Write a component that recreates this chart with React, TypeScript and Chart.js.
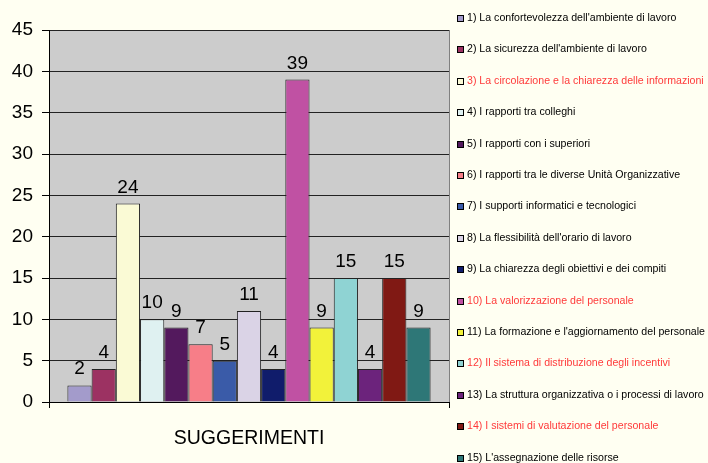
import React, { useEffect, useRef } from "react";
import { Chart, registerables } from "chart.js";

Chart.register(...registerables);

const categories = ["SUGGERIMENTI"];

const seriesLabels = [
  "1) La confortevolezza dell'ambiente di lavoro",
  "2) La sicurezza dell'ambiente di lavoro",
  "3) La circolazione e la chiarezza delle informazioni",
  "4) I rapporti tra colleghi",
  "5) I rapporti con i superiori",
  "6) I rapporti tra le diverse Unità Organizzative",
  "7) I supporti informatici e tecnologici",
  "8) La flessibilità dell'orario di lavoro",
  "9) La chiarezza degli obiettivi e dei compiti",
  "10) La valorizzazione del personale",
  "11) La formazione e l'aggiornamento del personale",
  "12) Il sistema di distribuzione degli incentivi",
  "13) La struttura organizzativa o i processi di lavoro",
  "14) I sistemi di valutazione del personale",
  "15) L'assegnazione delle risorse",
];

const seriesValues = [2, 4, 24, 10, 9, 7, 5, 11, 4, 39, 9, 15, 4, 15, 9];

const seriesColors = [
  "#A39BCB", "#9C3262", "#FAFAD5", "#DFF1F1", "#53195D",
  "#F77E88", "#3A5BA8", "#DAD3E6", "#101C6B", "#C051A3",
  "#F2F23A", "#8FD3D3", "#6C237C", "#801914", "#2E7777",
];

const highlighted = [
  false, false, true, false, false,
  false, false, false, false, true,
  false, true, false, true, false,
];

const yMin = 0;
const yMax = 45;
const yStep = 5;

const FONT = "'Liberation Sans', Arial, sans-serif";
const CREAM = "#FFFFF2";
const PLOT_BG = "#CCCCCC";
const RED = "#FF3A3A";

const bgPlugin = {
  id: "bgPlugin",
  beforeDraw(chart: any) {
    const { ctx, chartArea: a, width, height } = chart;
    ctx.save();
    ctx.fillStyle = CREAM;
    ctx.fillRect(0, 0, width, height);
    ctx.fillStyle = PLOT_BG;
    ctx.fillRect(a.left, a.top, a.right - a.left, a.bottom - a.top);
    ctx.strokeStyle = "#808080";
    ctx.lineWidth = 1;
    ctx.beginPath();
    ctx.moveTo(Math.round(a.right) + 0.5, a.top);
    ctx.lineTo(Math.round(a.right) + 0.5, a.bottom);
    ctx.stroke();
    ctx.restore();
  },
};

const valueLabelPlugin = {
  id: "valueLabelPlugin",
  afterDatasetsDraw(chart: any) {
    const { ctx } = chart;
    ctx.save();
    ctx.font = `19px ${FONT}`;
    ctx.fillStyle = "#000";
    ctx.textAlign = "center";
    ctx.textBaseline = "alphabetic";
    chart.data.datasets.forEach((ds: any, i: number) => {
      const meta = chart.getDatasetMeta(i);
      meta.data.forEach((el: any, j: number) => {
        ctx.fillText(String(ds.data[j]), el.x, el.y - 11);
      });
    });
    ctx.restore();
  },
};

const legendPlugin = {
  id: "customLegend",
  afterDraw(chart: any) {
    const { ctx } = chart;
    ctx.save();
    ctx.font = `10.6px ${FONT}`;
    ctx.textBaseline = "middle";
    ctx.textAlign = "left";
    chart.data.datasets.forEach((ds: any, i: number) => {
      const y = 18 + i * 31.4;
      const by = Math.round(y - 3) + 0.5;
      ctx.fillStyle = ds.backgroundColor;
      ctx.fillRect(457.5, by, 6, 6);
      ctx.strokeStyle = "#000";
      ctx.lineWidth = 1;
      ctx.strokeRect(457.5, by, 6, 6);
      ctx.fillStyle = highlighted[i] ? RED : "#000";
      ctx.fillText(ds.label, 467, y);
    });
    ctx.restore();
  },
};

export default function App() {
  const canvasRef = useRef<HTMLCanvasElement | null>(null);

  useEffect(() => {
    if (!canvasRef.current) return;
    const chart = new Chart(canvasRef.current, {
      type: "bar",
      data: {
        labels: categories,
        datasets: seriesLabels.map((label, i) => ({
          label,
          data: [seriesValues[i]],
          backgroundColor: seriesColors[i],
          borderColor: "#222",
          borderWidth: 1,
          categoryPercentage: 0.908,
          barPercentage: 1,
        })),
      },
      options: {
        responsive: false,
        animation: false,
        layout: { padding: { top: 30, right: 259, left: 0, bottom: 0 } },
        plugins: {
          legend: { display: false },
          tooltip: { enabled: false },
          title: { display: false },
        },
        scales: {
          x: {
            offset: true,
            grid: {
              display: true,
              drawOnChartArea: false,
              tickLength: 6,
              color: "#000",
              offset: true,
            },
            border: { color: "#000" },
            ticks: {
              font: { family: FONT, size: 19.5 },
              color: "#000",
              padding: 19,
            },
            afterFit(s: any) {
              s.height = 61;
            },
          },
          y: {
            min: yMin,
            max: yMax,
            ticks: {
              stepSize: yStep,
              font: { family: FONT, size: 19 },
              color: "#000",
              padding: 9,
            },
            grid: {
              color: "#222",
              tickLength: 7,
              tickColor: "#000",
            },
            border: { color: "#000" },
            afterFit(s: any) {
              s.width = 49;
            },
          },
        },
      },
      plugins: [bgPlugin, valueLabelPlugin, legendPlugin],
    });
    return () => chart.destroy();
  }, []);

  return (
    <div
      style={{
        position: "absolute",
        left: 0,
        top: 0,
        width: 708,
        height: 463,
        background: CREAM,
        overflow: "hidden",
      }}
    >
      <canvas ref={canvasRef} width={708} height={463} />
    </div>
  );
}
